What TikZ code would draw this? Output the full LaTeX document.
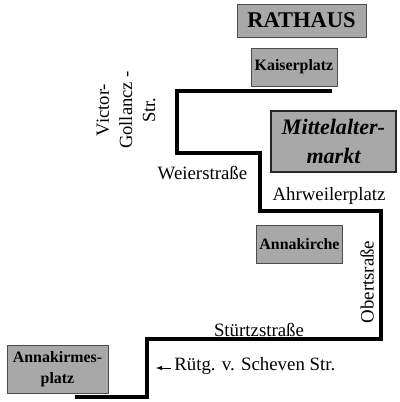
\documentclass[tikz,border=0pt]{standalone}
\usepackage{fontspec}
\setmainfont{Liberation Serif}
\definecolor{boxgray}{gray}{0.66}
\begin{document}
\begin{tikzpicture}[x=0.025cm,y=-0.025cm,font=\fontsize{13.4}{15}\selectfont,
  pbox/.style={draw=black!70,fill=boxgray,line width=0.5pt,inner sep=0pt,align=center,font=\fontsize{11.3}{14.5}\selectfont\bfseries},
  slabel/.style={inner sep=0pt,align=center},
  route/.style={line width=1.05mm,line join=miter}]
\useasboundingbox (0,0) rectangle (400,402);
% places
\node[pbox,minimum width=3.22cm,minimum height=0.82cm,font=\fontsize{16}{18}\selectfont\bfseries] (rathaus) at (301.5,20.5) {RATHAUS};
\node[pbox,minimum width=2.15cm,minimum height=0.95cm] (kaiser) at (294,67) {Kaiserplatz};
\node[pbox,draw=black!85,line width=1.3pt,minimum width=3.12cm,minimum height=1.52cm,font=\fontsize{15.7}{20.5}\selectfont\bfseries\itshape] (markt) at (333.5,141.5) {Mittelalter-\\markt};
\node[pbox,minimum width=2.15cm,minimum height=0.95cm] (kirche) at (299.5,244) {Annakirche};
\node[pbox,minimum width=2.52cm,minimum height=1.2cm] (kirmes) at (57.5,369) {Annakirmes-\\platz};
% streets
\node[slabel,rotate=90,font=\fontsize{13.2}{16.5}\selectfont] (victor) at (126,110) {Victor-\\Gollancz -\\Str.};
\node[slabel] (weier) at (202.5,173) {Weierstraße};
\node[slabel] (ahr) at (329,196) {Ahrweilerplatz};
\node[slabel,rotate=90] (obert) at (367,282) {Obertsraße};
\node[slabel] (stuertz) at (259,330) {Stürtzstraße};
\node[slabel,anchor=west] (ruetg) at (174,366) {Rütg. v. Scheven Str.};
\coordinate (tip) at (156,368);
\draw[-latex,line width=0.5pt] (ruetg.west |- tip) ++(-3,0) coordinate (tail) -- (tip);
% route
\coordinate (start) at (332,91);
\coordinate (stop) at (75,397);
\draw[route] (start) -- (177,91) -- (177,153) -- (260,153) -- (260,211) -- (381,211) -- (381,339) -- (147,339) -- (147,397) -- (stop);
\end{tikzpicture}
\end{document}
